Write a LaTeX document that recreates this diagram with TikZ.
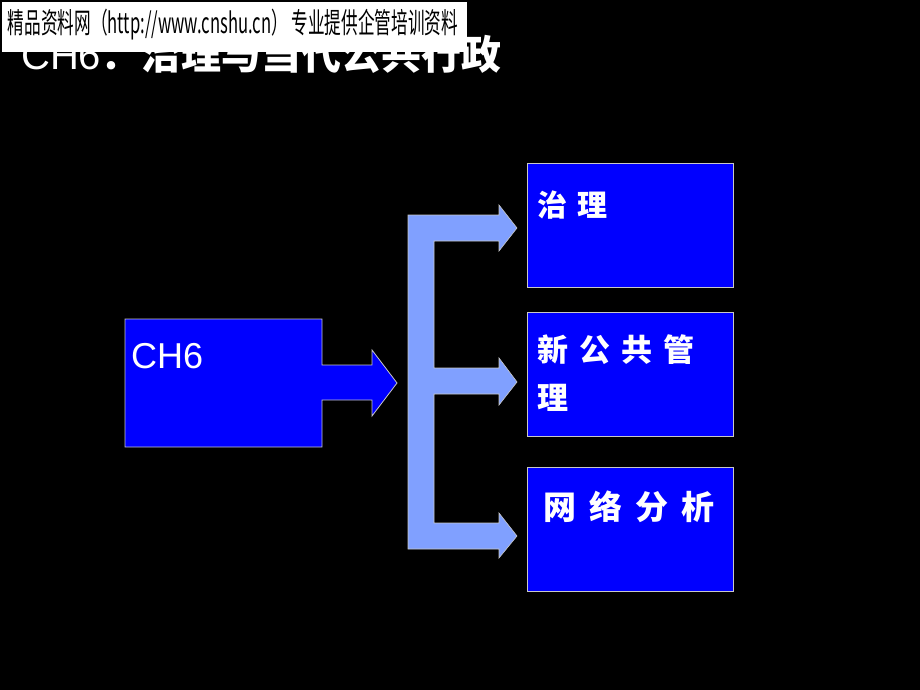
\documentclass[tikz,border=0pt]{standalone}
\usepackage{fontspec}
\usepackage{graphicx}
\setmainfont{Liberation Sans}
\newfontfamily\cjk{Noto Sans CJK SC}
\definecolor{boxblue}{RGB}{0,0,255}
\definecolor{lightarrow}{RGB}{128,160,255}
\definecolor{edgegray}{RGB}{200,200,200}
\tikzset{
  bluebox/.style={draw=edgegray, line width=0.8pt, fill=boxblue, minimum width=206pt, minimum height=124pt, anchor=north west, inner sep=0pt},
  boxtext/.style={text=white, anchor=west, inner sep=0pt, font=\cjk\bfseries\fontsize{30pt}{30pt}\selectfont},
  bigarrow/.style={fill=lightarrow, draw=edgegray, line width=0.6pt},
}
\begin{document}
\begin{tikzpicture}[x=1pt,y=-1pt]
\fill[black] (0,0) rectangle (920,690);
\useasboundingbox (0,0) rectangle (920,690);
% title (partly hidden by banner)
\node[text=white, anchor=base west, inner sep=0pt, font=\fontsize{40pt}{42pt}\selectfont] (title) at (21,70) {CH6{\cjk\bfseries ：治理与当代公共行政}};
% banner
\node[fill=white, minimum width=465pt, minimum height=50pt, anchor=north west, inner sep=0pt] (banner) at (2,2) {};
\node[anchor=center, inner sep=0pt] (wm) at (233,25) {\resizebox*{450pt}{31pt}{\cjk 精品资料网（http://www.cnshu.cn） 专业提供企管培训资料}};
% CH6 block with arrow
\draw[draw=edgegray, line width=0.8pt, fill=boxblue] (125,319) -- (322,319) -- (322,365) -- (372,365) -- (372,350) -- (397,383) -- (372,416) -- (372,400) -- (322,400) -- (322,447) -- (125,447) -- cycle;
\node[text=white, anchor=base west, inner sep=0pt, font=\fontsize{36pt}{38pt}\selectfont] (ch6) at (131,368) {CH6};
% E-shaped branching arrow
\draw[bigarrow] (408,215) -- (499,215) -- (499,205) -- (517,228) -- (499,251) -- (499,241) -- (434,241) -- (434,368) -- (499,368) -- (499,358) -- (517,382) -- (499,405) -- (499,394) -- (434,394) -- (434,523) -- (499,523) -- (499,513) -- (517,536) -- (499,558) -- (499,549) -- (408,549) -- cycle;
% right boxes
\node[bluebox] (b1) at (527,163) {};
\node[bluebox] (b2) at (527,312) {};
\node[bluebox] (b3) at (527,467) {};
\node[boxtext] (t1) at (537,205) {治\hspace{10pt}理};
\node[boxtext, font=\cjk\bfseries\fontsize{31pt}{31pt}\selectfont] (t2a) at (537,350) {新\hspace{11pt}公\hspace{11pt}共\hspace{11pt}管};
\node[boxtext, font=\cjk\bfseries\fontsize{31pt}{31pt}\selectfont] (t2b) at (537,398) {理};
\node[boxtext, font=\cjk\bfseries\fontsize{33pt}{33pt}\selectfont] (t3) at (543,507) {网\hspace{13pt}络\hspace{13pt}分\hspace{13pt}析};
\end{tikzpicture}
\end{document}
